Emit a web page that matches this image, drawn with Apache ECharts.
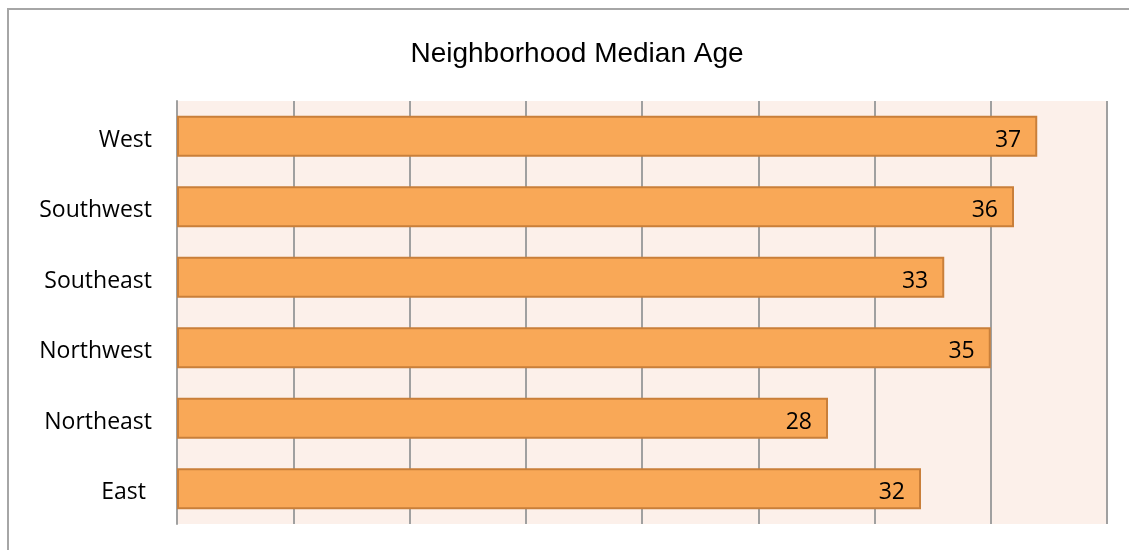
<!DOCTYPE html>
<html>
<head>
<meta charset="utf-8">
<script src="https://cdn.jsdelivr.net/npm/echarts@6/dist/echarts.min.js"></script>
<style>
  html, body { margin: 0; padding: 0; background: #ffffff; }
  #chart { width: 1129px; height: 550px; }
</style>
</head>
<body>
<div id="chart"></div>
<script>
// Neighborhoods, listed bottom-to-top as drawn on the category axis
const neighborhoods = ['East ', 'Northeast', 'Northwest', 'Southeast', 'Southwest', 'West'];
// Median age per neighborhood
const medianAge = [32, 28, 35, 33, 36, 37];
// Value axis range
const axisMin = 0;
const axisMax = 40;
const axisStep = 5;

const chart = echarts.init(document.getElementById('chart'), null, { renderer: 'canvas' });

const gridColor = '#a0a0a0';
const labelFont = '"Open Sans", "Noto Sans", sans-serif';

chart.setOption({
  backgroundColor: '#ffffff',
  animation: false,
  graphic: [
    {
      type: 'rect',
      shape: { x: 8, y: 9, width: 1200, height: 600 },
      style: { fill: 'none', stroke: '#a6a6a6', lineWidth: 2 },
      z: -1
    }
  ],
  title: {
    text: 'Neighborhood Median Age',
    left: 572,
    textAlign: 'center',
    top: 35,
    textStyle: {
      fontFamily: '"Liberation Sans", Arial, sans-serif',
      fontSize: 28,
      fontWeight: 'normal',
      color: '#000000'
    }
  },
  grid: {
    left: 177,
    right: 22,
    top: 101,
    bottom: 26,
    show: true,
    backgroundColor: '#fcf0ea',
    borderWidth: 0
  },
  xAxis: {
    type: 'value',
    min: axisMin,
    max: axisMax,
    interval: axisStep,
    axisLine: { show: false },
    axisTick: { show: false },
    axisLabel: { show: false },
    splitLine: { show: true, lineStyle: { color: gridColor, width: 2 } }
  },
  yAxis: {
    type: 'category',
    data: neighborhoods,
    axisLine: { show: true, lineStyle: { color: gridColor, width: 2 } },
    axisTick: { show: false },
    axisLabel: {
      margin: 25,
      formatter: '{name|{value}}',
      rich: {
        name: {
          padding: [8, 0, 0, 0],
          fontFamily: labelFont,
          fontSize: 23,
          color: '#000000'
        }
      },
      fontFamily: labelFont,
      fontSize: 23,
      color: '#000000'
    }
  },
  series: [
    {
      type: 'bar',
      data: medianAge,
      barWidth: 41,
      itemStyle: {
        color: '#f9a857',
        borderColor: '#c97f3a',
        borderWidth: 2
      },
      label: {
        show: true,
        position: 'insideRight',
        distance: 16,
        offset: [0, 4],
        fontFamily: labelFont,
        fontSize: 23,
        color: '#000000'
      }
    }
  ]
});
</script>
</body>
</html>
